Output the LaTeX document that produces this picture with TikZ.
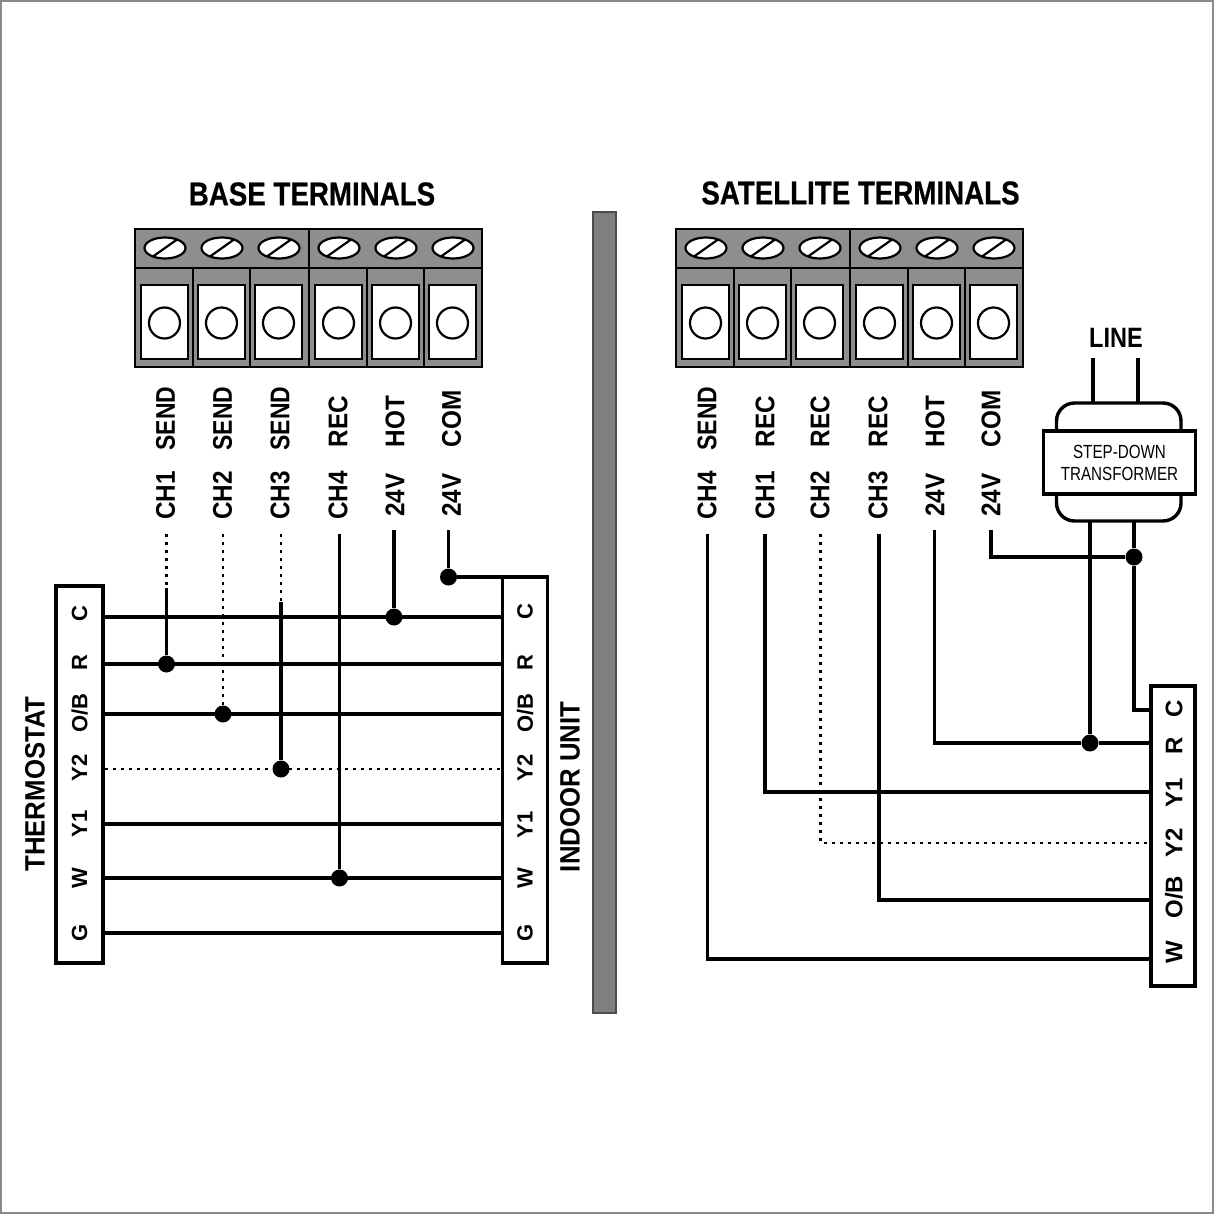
\documentclass[tikz,border=0pt]{standalone}
\usepackage{fontspec}
\setmainfont{Liberation Sans}
\newfontfamily\heavyfont[FakeBold=0.6]{Liberation Sans Bold}
\usetikzlibrary{shapes.geometric}
\definecolor{blockgray}{HTML}{8E8E8E}
\definecolor{bargray}{HTML}{7F7F7F}
\definecolor{framegray}{HTML}{8A8A8A}
\tikzset{
  wire/.style={line width=1.55pt,draw=black},
  dottedwire/.style={line width=1.45pt,draw=black,dash pattern=on 1.7pt off 2.3pt},
  junction/.style={circle,fill=black,inner sep=0pt,minimum size=8.5pt},
  termbox/.style={draw=black,line width=1.6pt,fill=white,inner sep=0pt},
  title/.style={font=\heavyfont\fontsize{16.5}{18}\selectfont,inner sep=0pt},
  sidelabel/.style={font=\bfseries\fontsize{14}{16}\selectfont,rotate=90,inner sep=0pt},
  boxlabel/.style={font=\bfseries\fontsize{11}{12}\selectfont,rotate=90,inner sep=0pt},
  pinlabel/.style={font=\bfseries\fontsize{13.5}{15}\selectfont,rotate=90,inner sep=0pt,anchor=west},
}
\newcommand{\sq}[1]{\scalebox{0.9}[1]{#1}}
\newcommand{\sqs}[1]{\scalebox{0.85}[1]{#1}}
\newcommand{\terminalblock}{%
  \draw[black,line width=1.2pt,fill=blockgray] (135,229) rectangle (482,367);
  \draw[black,line width=1.2pt] (135,268) -- (482,268);
  \draw[black,line width=1.2pt] (309,229) -- (309,367);
  \foreach \xx in {193,250,367,424} \draw[black,line width=1.2pt] (\xx,268) -- (\xx,367);
  \foreach \xx in {165,222,279,339,396,453}{
    \draw[black,line width=1.1pt,fill=white] (\xx,248) ellipse [x radius=20.5,y radius=10.5];
    \draw[black,line width=1.1pt] (\xx-12,256.5) -- (\xx+12,239.5);
  }
  \foreach \xa/\xc in {141/164.5,198/221.5,255/278.5,315/338.5,372/395.5,429/452.5}{
    \draw[black,line width=1.1pt,fill=white] (\xa,285) rectangle (\xa+47,359);
    \draw[black,line width=1.1pt] (\xc,323) circle [radius=15.5];
  }
}
\newcommand{\pinsend}[2]{%
  \node[pinlabel] at (#1,451) {\sqs{SEND}};
  \node[pinlabel] at (#1,520) {\sq{#2}};
}
\newcommand{\pinlab}[4]{%
  \node[pinlabel] at (#1,447.5) {\sq{#3}};
  \node[pinlabel] at (#1,#4) {\sq{#2}};
}
\begin{document}
\begin{tikzpicture}[x=0.5pt,y=-0.5pt]
\useasboundingbox (0,0) rectangle (1214,1214);
\fill[white] (0,0) rectangle (1214,1214);
\draw[framegray,line width=1.2pt] (1,1) rectangle (1213,1213);

% titles
\node[title] (basetitle) at (312,194) {\scalebox{0.84}[1]{BASE TERMINALS}};
\node[title] (sattitle) at (860.5,193) {\scalebox{0.84}[1]{SATELLITE TERMINALS}};

% centre bar
\draw[black!70,line width=0.8pt,fill=bargray] (593,212) rectangle (616,1013);

% terminal blocks
\terminalblock
\begin{scope}[shift={(541,0)}]
\terminalblock
\end{scope}

% pin labels
\pinsend{165.5}{CH1}
\pinsend{222.5}{CH2}
\pinsend{280}{CH3}
\pinlab{338}{CH4}{REC}{520}
\pinlab{395}{24V}{HOT}{517}
\pinlab{451.5}{24V}{COM}{517}
\pinsend{707}{CH4}
\pinlab{765}{CH1}{REC}{520}
\pinlab{820}{CH2}{REC}{520}
\pinlab{878}{CH3}{REC}{520}
\pinlab{935}{24V}{HOT}{517}
\pinlab{991}{24V}{COM}{517}

% boxes
\node[termbox,minimum width=23.5pt,minimum height=188.5pt] (thermo) at (79.5,774.5) {};
\node[termbox,minimum width=22.5pt,minimum height=193pt] (indoor) at (524.75,770) {};
\node[termbox,minimum width=22pt,minimum height=150pt] (sat) at (1173,836) {};

\node[sidelabel] (thermolabel) at (35,784) {\scalebox{0.92}[1]{THERMOSTAT}};
\node[sidelabel] (indoorlabel) at (570,787) {\scalebox{0.92}[1]{INDOOR UNIT}};

% box letters
\foreach \t/\yy [count=\i] in {C/614,R/663,O\slash B/713,Y2/768,Y1/824,W/878,G/933}{
  \node[boxlabel] (tl\i) at (79.5,\yy) {\t};
}
\foreach \t/\yy [count=\i] in {C/612,R/663,O\slash B/713,Y2/768,Y1/825,W/878,G/933}{
  \node[boxlabel] (il\i) at (525,\yy) {\t};
}
\foreach \t/\yy [count=\i] in {C/709,R/746,Y1/793,Y2/843,O\slash B/897,W/952}{
  \node[font=\bfseries\fontsize{12}{13}\selectfont,rotate=90,inner sep=0pt] (sl\i) at (1174,\yy) {\t};
}

% horizontal rail coordinates
\foreach \n/\yy in {C/617,R/664,OB/714,YT/769,YO/824,W/878,G/933}{
  \coordinate (L\n) at (thermo.east |- 0,\yy);
  \coordinate (I\n) at (indoor.west |- 0,\yy);
}
\draw[wire] (LC) -- (IC);
\draw[wire] (LR) -- (IR);
\draw[wire] (LOB) -- (IOB);
\draw[dottedwire] (LYT) -- (IYT);
\draw[wire] (LYO) -- (IYO);
\draw[wire] (LW) -- (IW);
\draw[wire] (LG) -- (IG);

% base junctions
\node[junction] (j1) at (166.5,664) {};
\node[junction] (j2) at (223,714) {};
\node[junction] (j3) at (281,769) {};
\node[junction] (j4) at (339.5,878) {};
\node[junction] (j5) at (394,617) {};
\node[junction] (j6) at (448.5,577) {};
\coordinate (b1top) at (166.5,534);
\coordinate (b1mid) at (166.5,588);
\coordinate (b2top) at (223,534);
\coordinate (b3top) at (281,534);
\coordinate (b3mid) at (281,602);
\coordinate (b4top) at (339.5,534);
\coordinate (b5top) at (394,530);
\coordinate (b6top) at (448.5,530);
\coordinate (indoorcorner) at (indoor.west |- j6);
\draw[dottedwire] (b1top) -- (b1mid);
\draw[wire] (b1mid) -- (j1);
\draw[dottedwire] (b2top) -- (j2);
\draw[dottedwire] (b3top) -- (b3mid);
\draw[wire] (b3mid) -- (j3);
\draw[wire] (b4top) -- (j4);
\draw[wire] (b5top) -- (j5);
\draw[wire] (b6top) -- (j6) -- (indoorcorner);

% transformer
\draw[wire,line width=1.7pt,rounded corners=9pt] (1056.5,440) -- (1056.5,403) -- (1181,403) -- (1181,440);
\draw[wire,line width=1.7pt,rounded corners=9pt] (1056.5,490) -- (1056.5,521) -- (1181,521) -- (1181,490);
\node[draw=black,line width=1.7pt,fill=white,minimum width=76pt,minimum height=31.5pt,inner sep=0pt,align=center,font=\fontsize{9.5}{11.5}\selectfont] (xfmr) at (1119.5,462.5) {\scalebox{0.8}[1]{STEP-DOWN}\\[-0.5pt]\scalebox{0.8}[1]{TRANSFORMER}};
\node[font=\bfseries\fontsize{14}{16}\selectfont,inner sep=0pt] (line) at (1116,338) {\scalebox{0.84}[1]{LINE}};
\coordinate (la) at (1093,358);
\coordinate (lb) at (1138,358);
\coordinate (lat) at (1093,403);
\coordinate (lbt) at (1138,403);
\draw[wire] (la) -- (lat);
\draw[wire] (lb) -- (lbt);

% satellite wiring
\node[junction] (j7) at (1134,557) {};
\node[junction] (j8) at (1090,743) {};
\coordinate (xa) at (1090,521);
\coordinate (xb) at (1134,521);
\coordinate (sC) at (sat.west |- 0,710);
\coordinate (sCc) at (1134,710);
\draw[wire] (xa) -- (j8);
\draw[wire] (xb) -- (j7) -- (sCc) -- (sC);
\coordinate (s24top) at (991,530);
\coordinate (s24c) at (991,557);
\draw[wire] (s24top) -- (s24c) -- (j7);
\coordinate (shtop) at (934.5,530);
\coordinate (shc) at (934.5,743);
\coordinate (sR) at (sat.west |- 0,743);
\draw[wire] (shtop) -- (shc) -- (j8) -- (sR);
\coordinate (s1) at (765,534);
\coordinate (s1c) at (765,792);
\coordinate (sY1) at (sat.west |- 0,792);
\draw[wire] (s1) -- (s1c) -- (sY1);
\coordinate (s2) at (820.5,534);
\coordinate (s2c) at (820.5,843);
\coordinate (sY2) at (sat.west |- 0,843);
\draw[dottedwire] (s2) -- (s2c) -- (sY2);
\coordinate (s3) at (879,534);
\coordinate (s3c) at (879,900);
\coordinate (sOB) at (sat.west |- 0,900);
\draw[wire] (s3) -- (s3c) -- (sOB);
\coordinate (s4) at (707.5,534);
\coordinate (s4c) at (707.5,959);
\coordinate (sW) at (sat.west |- 0,959);
\draw[wire] (s4) -- (s4c) -- (sW);
\end{tikzpicture}
\end{document}
